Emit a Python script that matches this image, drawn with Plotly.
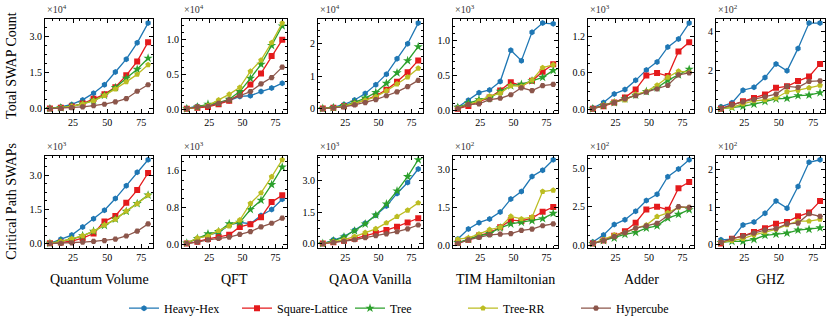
import plotly.graph_objects as go

qubits = [8, 16, 24, 32, 40, 48, 56, 64, 72, 80]

architectures = ["Heavy-Hex", "Square-Lattice", "Tree", "Tree-RR", "Hypercube"]
colors = ["#1f77b4", "#e41a1c", "#2ca02c", "#bcbd22", "#8c564b"]
symbols = ["hexagon", "square", "star", "pentagon", "hexagon2"]

benchmarks = ["Quantum Volume", "QFT", "QAOA Vanilla", "TIM Hamiltonian", "Adder", "GHZ"]
row_titles = ["Total SWAP Count", "Critical Path SWAPs"]

# total SWAP count, one dict per benchmark
total_qv = {
    "Heavy-Hex": [200, 800, 1800, 3700, 6500, 10000, 15300, 20600, 27400, 35600],
    "Square-Lattice": [100, 400, 1000, 2200, 4200, 6000, 9000, 13900, 19700, 27700],
    "Tree": [100, 400, 1000, 2000, 3500, 5600, 8800, 12700, 16400, 21000],
    "Tree-RR": [100, 400, 1000, 2000, 3300, 5500, 8200, 11200, 14300, 18300],
    "Hypercube": [50, 200, 500, 800, 1300, 1900, 2900, 4200, 7300, 10000],
}
total_qft = {
    "Heavy-Hex": [100, 400, 500, 800, 1200, 1800, 1900, 2500, 3000, 3700],
    "Square-Lattice": [50, 200, 300, 700, 1200, 2100, 3500, 5100, 7600, 9900],
    "Tree": [50, 300, 700, 900, 1400, 2500, 4400, 6400, 9100, 11900],
    "Tree-RR": [50, 300, 500, 1300, 2100, 3100, 5400, 7000, 9500, 12300],
    "Hypercube": [50, 300, 400, 800, 1300, 1900, 2500, 3600, 4500, 6000],
}
total_qaoa = {
    "Heavy-Hex": [100, 500, 1300, 2700, 4700, 7400, 10600, 15300, 19900, 26200],
    "Square-Lattice": [100, 300, 800, 1600, 2700, 4000, 5800, 8300, 11200, 14800],
    "Tree": [100, 400, 1000, 2000, 3300, 5000, 7800, 11000, 14700, 19000],
    "Tree-RR": [100, 300, 800, 1600, 2600, 3700, 5500, 7600, 9700, 12400],
    "Hypercube": [50, 300, 600, 1200, 1900, 2800, 4000, 5200, 6800, 8700],
}
total_tim = {
    "Heavy-Hex": [40, 140, 250, 290, 410, 860, 710, 1120, 1250, 1240],
    "Square-Lattice": [20, 60, 120, 180, 280, 400, 350, 420, 550, 660],
    "Tree": [40, 100, 150, 170, 270, 350, 370, 420, 470, 570],
    "Tree-RR": [30, 80, 130, 200, 240, 350, 340, 430, 610, 650],
    "Hypercube": [20, 80, 90, 150, 170, 220, 320, 280, 350, 370],
}
total_adder = {
    "Heavy-Hex": [30, 120, 260, 330, 480, 650, 780, 1020, 1150, 1410],
    "Square-Lattice": [20, 60, 120, 200, 330, 560, 600, 550, 950, 1100],
    "Tree": [20, 70, 120, 180, 240, 300, 360, 480, 570, 660],
    "Tree-RR": [20, 80, 130, 160, 250, 300, 400, 530, 630, 610],
    "Hypercube": [20, 70, 120, 180, 230, 290, 340, 400, 570, 600],
}
total_ghz = {
    "Heavy-Hex": [15, 35, 100, 115, 165, 235, 200, 315, 445, 445],
    "Square-Lattice": [5, 25, 43, 60, 78, 112, 120, 147, 170, 235],
    "Tree": [5, 12, 17, 28, 42, 55, 58, 72, 75, 87],
    "Tree-RR": [5, 12, 30, 45, 50, 60, 92, 100, 112, 125],
    "Hypercube": [5, 25, 40, 52, 65, 80, 120, 115, 145, 148],
}

# critical path SWAPs, one dict per benchmark
crit_qv = {
    "Heavy-Hex": [20, 200, 380, 730, 1100, 1470, 1980, 2540, 3130, 3680],
    "Square-Lattice": [20, 50, 120, 250, 450, 980, 1220, 1800, 2350, 3100],
    "Tree": [20, 100, 200, 350, 550, 800, 1080, 1420, 1760, 2130],
    "Tree-RR": [20, 100, 220, 350, 550, 820, 1070, 1430, 1750, 2130],
    "Hypercube": [10, 20, 40, 70, 100, 140, 200, 340, 550, 870],
}
crit_qft = {
    "Heavy-Hex": [30, 130, 200, 260, 420, 480, 450, 630, 760, 980],
    "Square-Lattice": [20, 60, 120, 160, 210, 380, 440, 590, 920, 1070],
    "Tree": [30, 130, 230, 280, 450, 480, 760, 960, 1300, 1680],
    "Tree-RR": [30, 140, 180, 300, 400, 530, 890, 1120, 1470, 1840],
    "Hypercube": [20, 50, 100, 130, 160, 220, 280, 380, 460, 570],
}
crit_qaoa = {
    "Heavy-Hex": [20, 200, 350, 650, 980, 1360, 1800, 2400, 2920, 3560],
    "Square-Lattice": [20, 80, 150, 250, 380, 520, 660, 820, 1020, 1220],
    "Tree": [20, 150, 330, 620, 950, 1370, 1900, 2520, 3200, 4000],
    "Tree-RR": [20, 100, 200, 350, 540, 720, 1000, 1300, 1600, 1950],
    "Hypercube": [20, 70, 120, 200, 300, 390, 480, 580, 720, 900],
}
crit_tim = {
    "Heavy-Hex": [26, 65, 90, 105, 132, 183, 213, 272, 297, 338],
    "Square-Lattice": [10, 23, 40, 50, 72, 100, 97, 108, 133, 152],
    "Tree": [12, 25, 38, 47, 70, 85, 92, 98, 106, 127],
    "Tree-RR": [25, 30, 45, 63, 72, 115, 105, 112, 213, 218],
    "Hypercube": [8, 22, 32, 42, 45, 47, 60, 65, 78, 85],
}
crit_adder = {
    "Heavy-Hex": [20, 66, 133, 165, 220, 290, 330, 445, 495, 555],
    "Square-Lattice": [10, 30, 60, 90, 145, 232, 250, 230, 370, 410],
    "Tree": [10, 30, 45, 70, 82, 110, 125, 175, 200, 230],
    "Tree-RR": [10, 35, 65, 80, 110, 130, 185, 210, 245, 245],
    "Hypercube": [10, 30, 55, 80, 110, 125, 142, 190, 250, 245],
}
crit_ghz = {
    "Heavy-Hex": [12, 14, 52, 60, 83, 116, 97, 155, 220, 227],
    "Square-Lattice": [2, 15, 22, 33, 43, 55, 60, 75, 85, 116],
    "Tree": [5, 8, 8, 13, 24, 27, 30, 38, 40, 44],
    "Tree-RR": [5, 10, 15, 25, 33, 40, 52, 62, 62, 67],
    "Hypercube": [5, 15, 22, 30, 38, 42, 55, 57, 82, 75],
}

panels = [
    [total_qv, total_qft, total_qaoa, total_tim, total_adder, total_ghz],
    [crit_qv, crit_qft, crit_qaoa, crit_tim, crit_adder, crit_ghz],
]
# exponent of the axis multiplier and the tick step / format for each panel
exponents = [[4, 4, 4, 3, 3, 2], [3, 3, 3, 2, 2, 2]]
tick_steps = [[1.5, 0.5, 1, 0.5, 0.6, 2], [1.5, 0.8, 1.5, 1.5, 2.5, 1]]
tick_formats = [[".1f", ".1f", ".0f", ".1f", ".1f", ".0f"], [".1f", ".1f", ".1f", ".1f", ".1f", ".0f"]]
minor_steps = [[0.375, 0.1, 0.2, 0.1, 0.15, 0.5], [0.375, 0.2, 0.375, 0.375, 0.625, 0.2]]

W, H = 830, 328
col_px = [(45, 153), (182, 287), (318, 423), (453, 558), (588, 694), (716, 825)]
row_px = [(19, 114), (157, 250)]

FONT = "Liberation Serif"
fig = go.Figure()

for r in range(2):
    for c in range(6):
        k = r * 6 + c + 1
        xa = "x" if k == 1 else f"x{k}"
        ya = "y" if k == 1 else f"y{k}"
        scale = 10 ** exponents[r][c]
        data = panels[r][c]
        allv = []
        for i, arch in enumerate(architectures):
            vals = [v / scale for v in data[arch]]
            allv += vals
            fig.add_trace(go.Scatter(
                x=qubits, y=vals, mode="lines+markers", name=arch,
                xaxis=xa, yaxis=ya, showlegend=(k == 1),
                line=dict(color=colors[i], width=1.3),
                marker=dict(symbol=symbols[i], size=6 if symbols[i] != "star" else 7,
                            color=colors[i], line=dict(width=0)),
            ))
        lo, hi = min(allv), max(allv)
        pad = (hi - lo) * 0.05
        x0, x1 = col_px[c]
        y0, y1 = row_px[r]
        axis_common = dict(
            showline=True, linecolor="black", linewidth=1, mirror="ticks",
            ticks="inside", ticklen=4, tickcolor="black", showgrid=False, zeroline=False,
            tickfont=dict(family=FONT, size=10, color="black"),
        )
        fig.layout[xa.replace("x", "xaxis")] = dict(
            domain=[x0 / W, x1 / W], anchor=ya, range=[4.4, 83.6],
            tickvals=[25, 50, 75],
            minor=dict(ticks="inside", ticklen=2, dtick=5, tick0=0, tickcolor="black"),
            **axis_common,
        )
        fig.layout[ya.replace("y", "yaxis")] = dict(
            domain=[1 - y1 / H, 1 - y0 / H], anchor=xa, range=[lo - pad, hi + pad],
            dtick=tick_steps[r][c], tick0=0, tickformat=tick_formats[r][c],
            minor=dict(ticks="inside", ticklen=2, dtick=minor_steps[r][c], tick0=0, tickcolor="black"),
            **axis_common,
        )
        fig.add_annotation(
            x=x0 / W, y=1 - (y0 - 2) / H, xref="paper", yref="paper",
            xanchor="left", yanchor="bottom", showarrow=False,
            text=f"×10<sup>{exponents[r][c]}</sup>",
            font=dict(family=FONT, size=10, color="#333"),
        )

for c, name in enumerate(benchmarks):
    x0, x1 = col_px[c]
    fig.add_annotation(
        x=(x0 + x1) / 2 / W, y=1 - 282 / H, xref="paper", yref="paper",
        xanchor="center", yanchor="middle",
        showarrow=False, text=name, font=dict(family=FONT, size=14, color="black"),
    )

for r, name in enumerate(row_titles):
    y0, y1 = row_px[r]
    fig.add_annotation(
        x=12 / W, y=1 - (y0 + y1) / 2 / H, xref="paper", yref="paper",
        xanchor="center", yanchor="middle",
        showarrow=False, text=name, textangle=-90,
        font=dict(family=FONT, size=14, color="black"),
    )

fig.update_layout(
    width=W, height=H, margin=dict(l=0, r=0, t=0, b=0),
    paper_bgcolor="white", plot_bgcolor="white",
    font=dict(family=FONT, color="black"),
    legend=dict(orientation="h", x=124 / W, xanchor="left", y=1 - 311 / H, yanchor="middle",
                font=dict(family=FONT, size=12), itemwidth=30, entrywidth=68,
                bgcolor="rgba(0,0,0,0)"),
)

fig.write_html("out.html", config={"displayModeBar": False},
               post_script="document.body.style.margin='0';")
